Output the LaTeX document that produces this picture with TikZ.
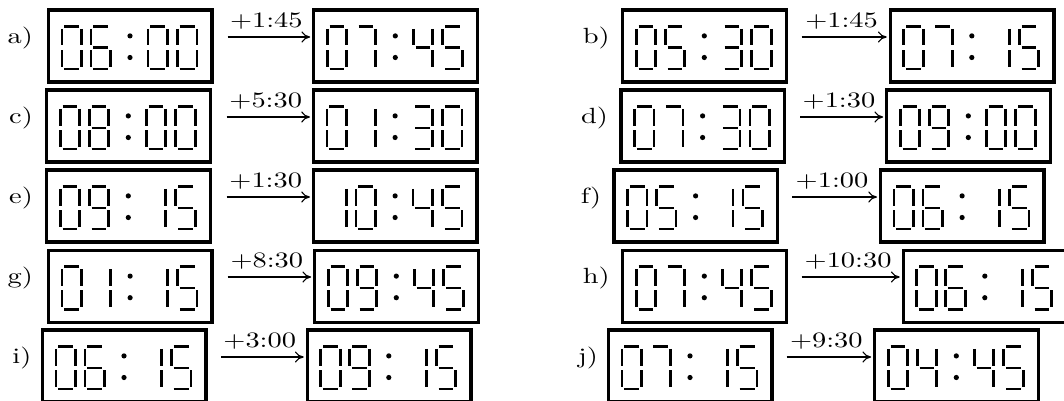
\documentclass[tikz,border=0pt]{standalone}
\usepackage{graphicx}
\usetikzlibrary{arrows.meta}
\tikzset{
  clockbox/.style={draw, line width=1.7pt, minimum width=81.8pt, minimum height=36.05pt, inner sep=0pt, outer sep=0pt},
  seg/.style={line width=1.3pt, line cap=butt},
  arr/.style={line width=0.55pt, -{Computer Modern Rightarrow[length=4.4pt,width=5.6pt]}, shorten >=1.75pt},
  lab/.style={inner sep=0pt, font=\fontsize{10}{12}\selectfont},
}
\newcommand\st[1]{\scalebox{1.42}[1.1]{#1}}
\newcommand\SgA{\draw[seg] (2.3,0)--(17.2,0);}
\newcommand\SgB{\draw[seg] (19.5,2.3)--(19.5,19);}
\newcommand\SgC{\draw[seg] (19.5,23.6)--(19.5,40.3);}
\newcommand\SgD{\draw[seg] (2.3,42.6)--(17.2,42.6);}
\newcommand\SgE{\draw[seg] (0,23.6)--(0,40.3);}
\newcommand\SgF{\draw[seg] (0,2.3)--(0,19);}
\newcommand\SgG{\draw[seg] (2.3,21.3)--(17.2,21.3);}
\newcommand\sdig[2]{\begin{scope}[shift={(#1,18.2)}]\ifcase#2 \SgA\SgB\SgC\SgD\SgE\SgF\or \SgB\SgC\or \SgA\SgB\SgG\SgE\SgD\or \SgA\SgB\SgG\SgC\SgD\or \SgF\SgG\SgB\SgC\or \SgA\SgF\SgG\SgC\SgD\or \SgA\SgF\SgG\SgE\SgD\SgC\or \SgA\SgB\SgC\or \SgA\SgB\SgC\SgD\SgE\SgF\SgG\or \SgA\SgB\SgC\SgD\SgF\SgG\fi\end{scope}}
\newcommand\clock[7]{%
  \node[clockbox] (#1) at ({#2+83.5},{#3+37.75}) {};
  \begin{scope}[shift={(#2,#3)}]
    \sdig{15.2}{#4}\sdig{44.2}{#5}\sdig{101.2}{#6}\sdig{130.7}{#7}
    \fill (83.3,27.6) circle[radius=2.6] (83.3,49.2) circle[radius=2.6];
  \end{scope}}
\begin{document}
\begin{tikzpicture}[x=0.5pt,y=-0.5pt]
\useasboundingbox (0,0) rectangle (1064,401);
\fill[white] (0,0) rectangle (1064,401);
\clip (0,0) rectangle (1064,401);
% row 1
\clock{aL}{46.7}{8.3}{0}{6}{0}{0}
\clock{aR}{312}{8.3}{0}{7}{4}{5}
\clock{bL}{621}{8.3}{0}{5}{3}{0}
\clock{bR}{888.5}{8.3}{0}{7}{1}{5}
% row 2
\clock{cL}{45}{88.3}{0}{8}{0}{0}
\clock{cR}{311.8}{88.3}{0}{1}{3}{0}
\clock{dL}{619.3}{88.3}{0}{7}{3}{0}
\clock{dR}{885}{88.3}{0}{9}{0}{0}
% row 3
\clock{eL}{45}{168.3}{0}{9}{1}{5}
\clock{eR}{311.8}{168.3}{1}{0}{4}{5}
\clock{fL}{612.3}{168.3}{0}{5}{1}{5}
\clock{fR}{878.8}{168.3}{0}{6}{1}{5}
% row 4
\clock{gL}{46.8}{248.5}{0}{1}{1}{5}
\clock{gR}{313}{248.5}{0}{9}{4}{5}
\clock{hL}{621}{248.5}{0}{7}{4}{5}
\clock{hR}{901.5}{248.5}{0}{6}{1}{5}
% row 5
\clock{iL}{40.7}{328.3}{0}{6}{1}{5}
\clock{iR}{305.5}{328.3}{0}{9}{1}{5}
\clock{jL}{606.7}{328.3}{0}{7}{1}{5}
\clock{jR}{873}{328.3}{0}{4}{4}{5}
% labels
\node[lab, anchor=base east] (la) at (33.3,43.5) {\st{a)}};
\node[lab, anchor=base east] (lc) at (33.3,123.5) {\st{c)}};
\node[lab, anchor=base east] (le) at (33.3,203.5) {\st{e)}};
\node[lab, anchor=base east] (lg) at (33.3,283.5) {\st{g)}};
\node[lab, anchor=base east] (li) at (31.7,363.5) {\st{i)}};
\node[lab, anchor=base east] (lb) at (610,43.5) {\st{b)}};
\node[lab, anchor=base east] (ld) at (608.3,123.5) {\st{d)}};
\node[lab, anchor=base east] (lf) at (601.7,203.5) {\st{f)}};
\node[lab, anchor=base east] (lh) at (610,283.5) {\st{h)}};
\node[lab, anchor=base east] (lj) at (598.3,363.5) {\st{j)}};
% arrows
\coordinate (sa) at (227.7,37);
\coordinate (sb) at (801.7,37);
\coordinate (sc) at (226.7,117);
\coordinate (sd) at (800,117);
\coordinate (se) at (226.7,197);
\coordinate (sf) at (792.3,197);
\coordinate (sg) at (227.7,277);
\coordinate (sh) at (801.7,277);
\coordinate (si) at (221,357);
\coordinate (sj) at (786.7,357);
\tikzset{arrlab/.style={lab, pos=0.5, anchor=base, yshift=4.8pt, xshift=-2.2pt}}
\draw[arr] (sa) -- node[arrlab] {\st{+1:45}} (aR.west |- sa);
\draw[arr] (sb) -- node[arrlab] {\st{+1:45}} (bR.west |- sb);
\draw[arr] (sc) -- node[arrlab] {\st{+5:30}} (cR.west |- sc);
\draw[arr] (sd) -- node[arrlab] {\st{+1:30}} (dR.west |- sd);
\draw[arr] (se) -- node[arrlab] {\st{+1:30}} (eR.west |- se);
\draw[arr] (sf) -- node[arrlab] {\st{+1:00}} (fR.west |- sf);
\draw[arr] (sg) -- node[arrlab] {\st{+8:30}} (gR.west |- sg);
\draw[arr] (sh) -- node[arrlab] {\st{+10:30}} (hR.west |- sh);
\draw[arr] (si) -- node[arrlab] {\st{+3:00}} (iR.west |- si);
\draw[arr] (sj) -- node[arrlab] {\st{+9:30}} (jR.west |- sj);
\end{tikzpicture}
\end{document}
